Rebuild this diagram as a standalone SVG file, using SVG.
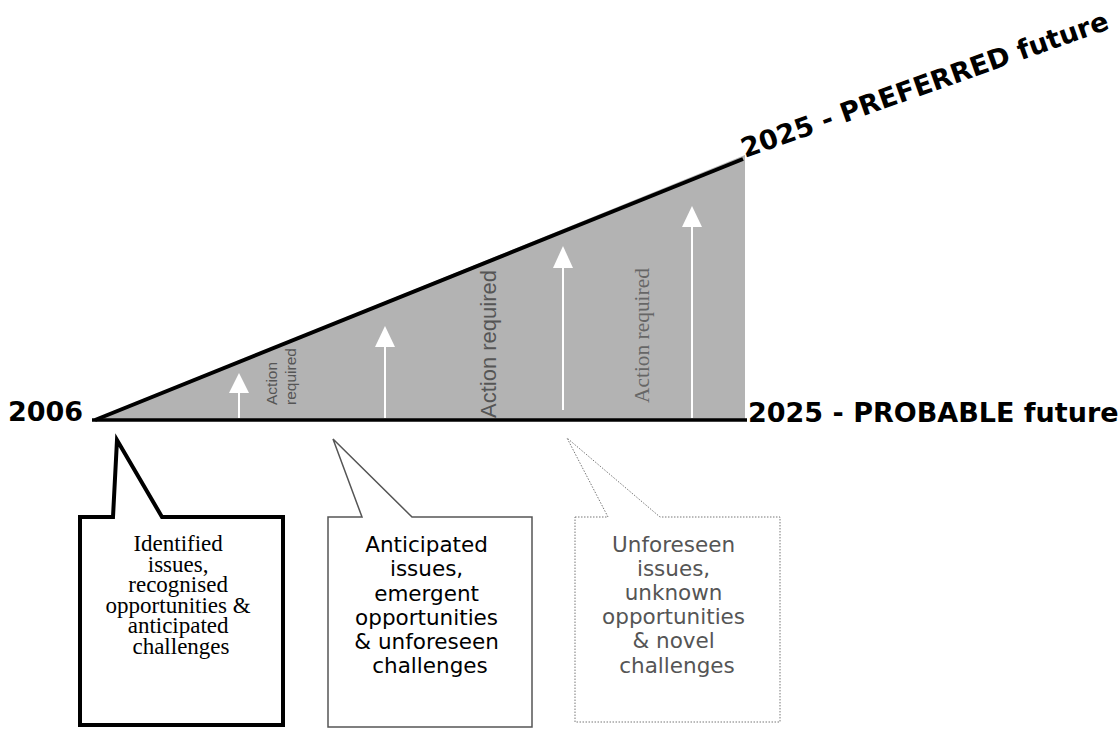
<svg xmlns="http://www.w3.org/2000/svg" width="1120" height="729" viewBox="0 0 1120 729">
<style>
.bold{font-family:"DejaVu Sans","Verdana",sans-serif;font-weight:bold;font-size:27px;fill:#000}
.act{font-family:"Liberation Sans",Arial,sans-serif;fill:#555}
.serif{font-family:"Liberation Serif","Times New Roman",serif}
.sans{font-family:"DejaVu Sans","Verdana",sans-serif}
.arrowline{stroke:#fff;stroke-width:2}
.arrowhead{fill:#fff}
</style>
<rect width="1120" height="729" fill="#fff"/>
<g id="wedge">
<polygon points="92,421 745,155 745,421" fill="#b3b3b3"/>
<line x1="95" y1="420" x2="743" y2="159" stroke="#000" stroke-width="4"/>
<line x1="92" y1="420" x2="747" y2="420" stroke="#000" stroke-width="3.5"/>
</g>
<g id="connectors">
<line class="arrowline" x1="239" y1="418" x2="239" y2="390"/>
<polygon class="arrowhead" points="239,373 229,393 249,393"/>
<line class="arrowline" x1="385" y1="418" x2="385" y2="344"/>
<polygon class="arrowhead" points="385,326 375,347 395,347"/>
<line class="arrowline" x1="563" y1="410" x2="563" y2="265"/>
<polygon class="arrowhead" points="563,246 553,268 573,268"/>
<line class="arrowline" x1="692" y1="418" x2="692" y2="224"/>
<polygon class="arrowhead" points="692,206 682,227 702,227"/>
</g>
<g id="action-labels">
<text class="act" font-size="15.5" transform="translate(277,405) rotate(-90)">Action</text>
<text class="act" font-size="15.5" transform="translate(296,405) rotate(-90)">required</text>
<text class="act" font-size="22" transform="translate(496,418) rotate(-90)">Action required</text>
<text class="serif" font-size="21.4" fill="#666" transform="translate(649,403) rotate(-90)">Action required</text>
</g>
<g id="labels">
<text class="bold" x="8" y="421" font-size="28.5">2006</text>
<text class="bold" x="748" y="422" font-size="26.4">2025 - PROBABLE future</text>
<text class="bold" transform="translate(745,158) rotate(-19.5)">2025 - PREFERRED future</text>
</g>
<g id="callout-identified">
<path d="M80,517 H113 L117,440 L162,517 H283 V725 H80 Z" fill="#fff" stroke="#000" stroke-width="4" stroke-linejoin="miter"/>
<text class="serif" font-size="23" fill="#000" text-anchor="middle">
<tspan x="181" y="551">Identified</tspan>
<tspan x="181" y="571.5">issues,</tspan>
<tspan x="181" y="592">recognised</tspan>
<tspan x="181" y="612.5">opportunities &amp;</tspan>
<tspan x="181" y="633">anticipated</tspan>
<tspan x="181" y="653.5">challenges</tspan>
</text>
</g>
<g id="callout-anticipated">
<path d="M328,517 H362 L333,439 L412,517 H532 V727 H328 Z" fill="#fff" stroke="#555" stroke-width="1.5"/>
<text class="sans" font-size="21.5" fill="#000" text-anchor="middle">
<tspan x="430" y="552">Anticipated</tspan>
<tspan x="430" y="576">issues,</tspan>
<tspan x="430" y="601">emergent</tspan>
<tspan x="430" y="625">opportunities</tspan>
<tspan x="430" y="649">&amp; unforeseen</tspan>
<tspan x="430" y="673">challenges</tspan>
</text>
</g>
<g id="callout-unforeseen">
<path d="M575,517 H608 L567,438 L660,517 H780 V722 H575 Z" fill="#fff" stroke="#777" stroke-width="1" stroke-dasharray="1.5,1.5"/>
<text class="sans" font-size="21.5" fill="#555" text-anchor="middle">
<tspan x="677" y="552">Unforeseen</tspan>
<tspan x="677" y="576">issues,</tspan>
<tspan x="677" y="600">unknown</tspan>
<tspan x="677" y="624">opportunities</tspan>
<tspan x="677" y="648">&amp; novel</tspan>
<tspan x="677" y="673">challenges</tspan>
</text>
</g>
</svg>
